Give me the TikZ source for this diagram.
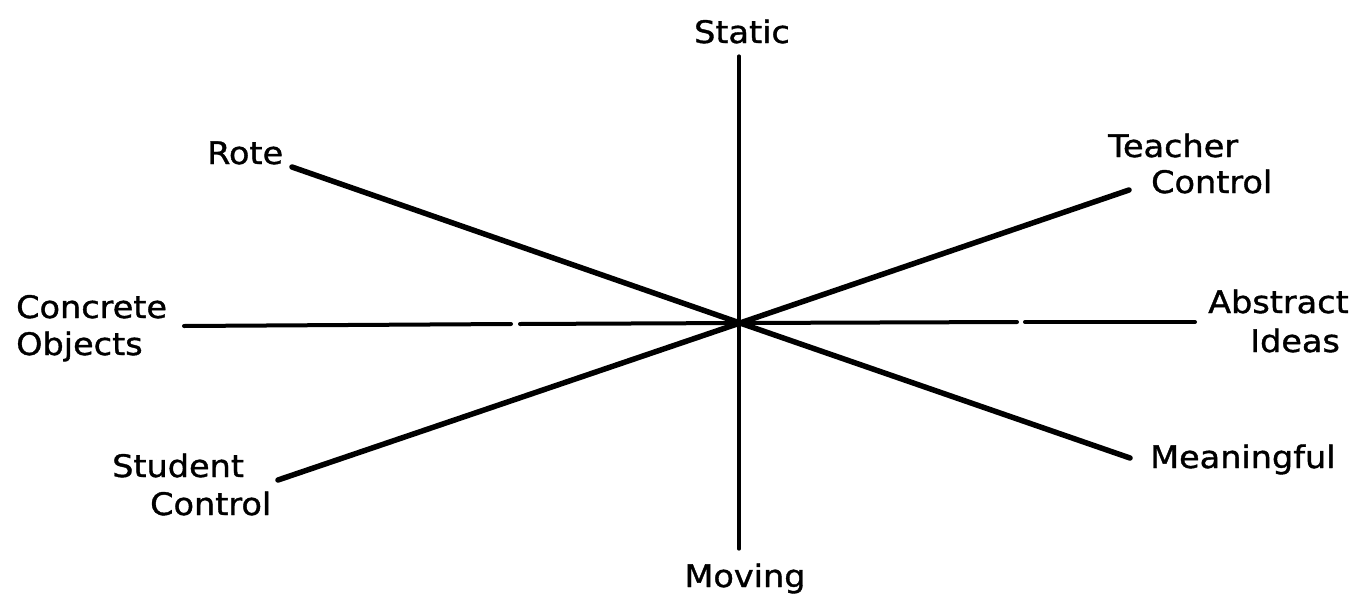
\documentclass[tikz,border=0pt]{standalone}
\usepackage{fontspec}
\setmainfont[FakeStretch=1.08,FakeBold=1.2]{DejaVu Sans}
\begin{document}
\begin{tikzpicture}[x=1pt,y=-1pt,
  lbl/.style={inner sep=0pt,font=\fontsize{31}{36}\selectfont},
  axis/.style={line width=4pt,line cap=round},
  diag/.style={line width=5.5pt,line cap=round}]
\useasboundingbox[fill=white] (0,0) rectangle (1370,597);
% labels
\node[lbl,anchor=base] (static) at (742,43) {Static};
\node[lbl,anchor=base] (moving) at (745,587) {Moving};
\node[lbl,anchor=base west] (rote) at (207,164) {Rote};
\node[lbl,anchor=base west] (teacher) at (1108,157) {Teacher};
\node[lbl,anchor=base west] (tcontrol) at (1151,193) {Control};
\node[lbl,anchor=base west] (concrete) at (16,318) {Concrete};
\node[lbl,anchor=base west] (objects) at (16,355) {Objects};
\node[lbl,anchor=base west] (abstract) at (1208,313) {Abstract};
\node[lbl,anchor=base west] (ideas) at (1250,352) {Ideas};
\node[lbl,anchor=base west] (student) at (112,477) {Student};
\node[lbl,anchor=base west] (scontrol) at (150,515) {Control};
\node[lbl,anchor=base west] (meaningful) at (1150,468) {Meaningful};
% line ends
\coordinate (c) at (740,323);
\coordinate (vt) at (739,56);
\coordinate (vb) at (739,549);
\coordinate (hl) at (184,326);
\coordinate (g1a) at (511,324);
\coordinate (g1b) at (520,324);
\coordinate (g2a) at (1017,322);
\coordinate (g2b) at (1025,322);
\coordinate (hr) at (1195,322);
\coordinate (re) at (292,167);
\coordinate (me) at (1130,458);
\coordinate (te) at (1129,190);
\coordinate (se) at (278,480);
% axes
\draw[line width=3.2pt,line cap=round] (vt) -- (vb);
\draw[axis] (hl) -- (g1a);
\draw[axis] (g1b) -- (c) -- (g2a);
\draw[axis] (g2b) -- (hr);
\draw[diag] (re) -- (c) -- (me);
\draw[diag] (te) -- (c) -- (se);
\end{tikzpicture}
\end{document}
